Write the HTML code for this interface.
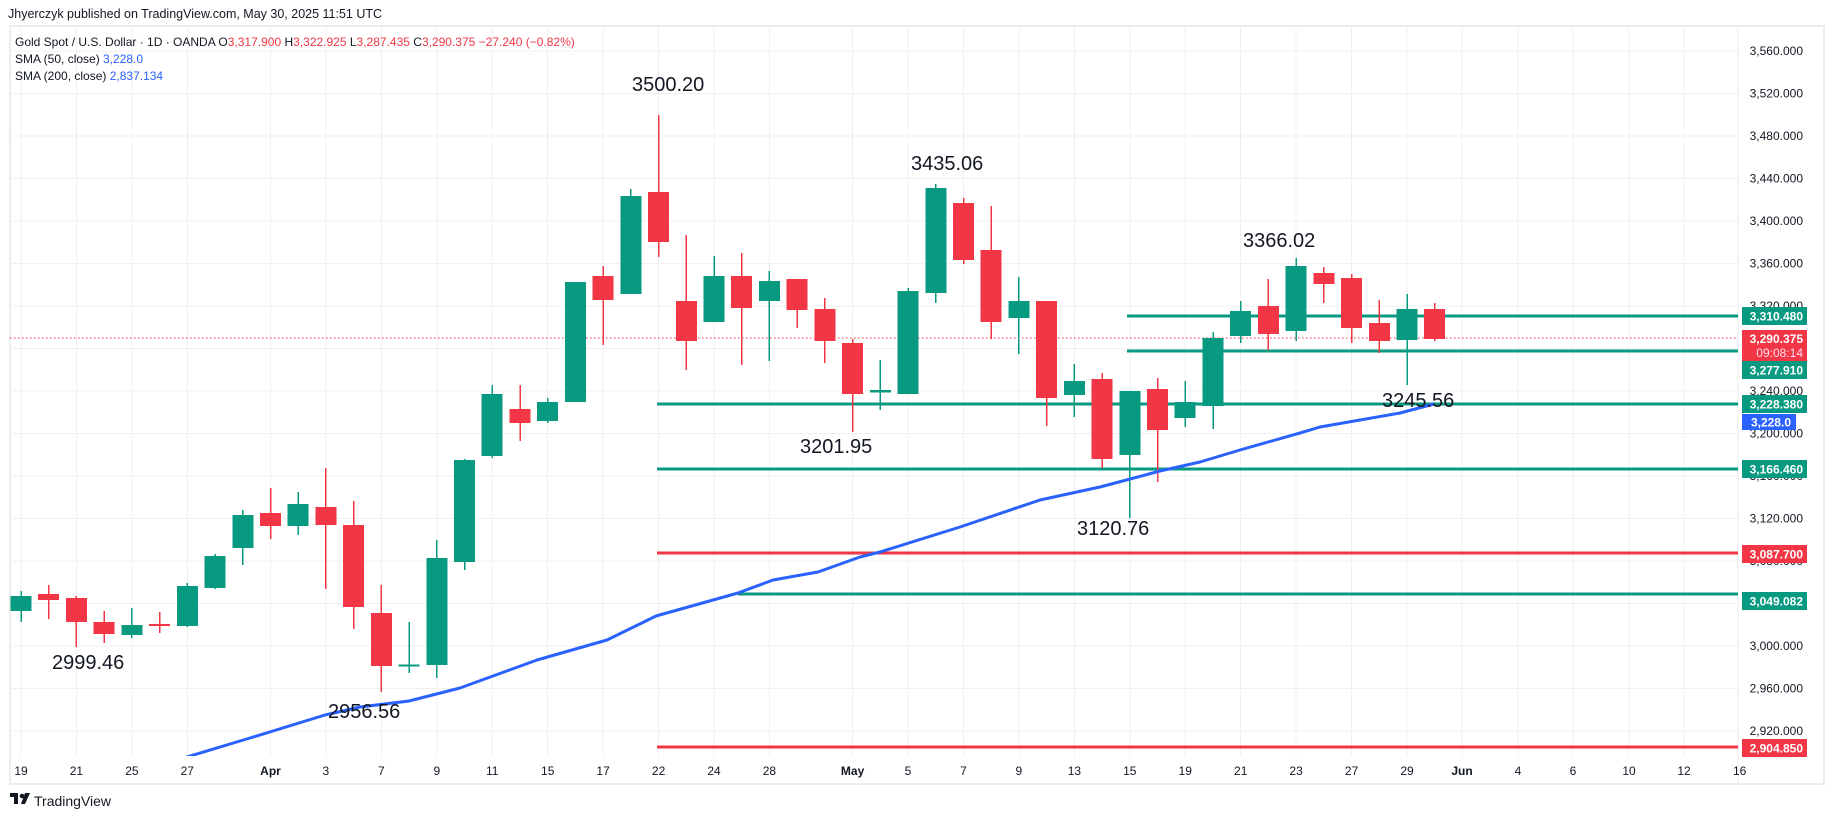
<!DOCTYPE html>
<html><head><meta charset="utf-8"><style>
html,body{margin:0;padding:0;background:#fff;}
svg{display:block;font-family:"Liberation Sans",sans-serif;}
</style></head><body>
<svg width="1835" height="820" viewBox="0 0 1835 820" xmlns="http://www.w3.org/2000/svg">
<rect width="1835" height="820" fill="#fff"/>
<text x="8" y="18" font-size="12.5" fill="#131722">Jhyerczyk published on TradingView.com, May 30, 2025 11:51 UTC</text>
<!-- frame -->
<rect x="10" y="26" width="1814" height="758" fill="none" stroke="#ececec" stroke-width="2"/>
<line x1="1738" y1="26" x2="1738" y2="784" stroke="#ececec" stroke-width="1"/>
<!-- grid -->
<g stroke="#f0f0f0" stroke-width="1" shape-rendering="crispEdges">
<line x1="10" x2="1738" y1="51" y2="51"/><line x1="10" x2="1738" y1="93.5" y2="93.5"/><line x1="10" x2="1738" y1="136" y2="136"/><line x1="10" x2="1738" y1="178.5" y2="178.5"/><line x1="10" x2="1738" y1="221" y2="221"/><line x1="10" x2="1738" y1="263.5" y2="263.5"/><line x1="10" x2="1738" y1="306" y2="306"/><line x1="10" x2="1738" y1="348.5" y2="348.5"/><line x1="10" x2="1738" y1="391" y2="391"/><line x1="10" x2="1738" y1="433.5" y2="433.5"/><line x1="10" x2="1738" y1="476" y2="476"/><line x1="10" x2="1738" y1="518.5" y2="518.5"/><line x1="10" x2="1738" y1="561" y2="561"/><line x1="10" x2="1738" y1="603.5" y2="603.5"/><line x1="10" x2="1738" y1="646" y2="646"/><line x1="10" x2="1738" y1="688.5" y2="688.5"/><line x1="10" x2="1738" y1="731" y2="731"/>
<line y1="26" y2="756" x1="21" x2="21"/><line y1="26" y2="756" x1="76.4" x2="76.4"/><line y1="26" y2="756" x1="131.9" x2="131.9"/><line y1="26" y2="756" x1="187.3" x2="187.3"/><line y1="26" y2="756" x1="270.5" x2="270.5"/><line y1="26" y2="756" x1="325.9" x2="325.9"/><line y1="26" y2="756" x1="381.4" x2="381.4"/><line y1="26" y2="756" x1="436.8" x2="436.8"/><line y1="26" y2="756" x1="492.2" x2="492.2"/><line y1="26" y2="756" x1="547.7" x2="547.7"/><line y1="26" y2="756" x1="603.1" x2="603.1"/><line y1="26" y2="756" x1="658.6" x2="658.6"/><line y1="26" y2="756" x1="714" x2="714"/><line y1="26" y2="756" x1="769.4" x2="769.4"/><line y1="26" y2="756" x1="852.6" x2="852.6"/><line y1="26" y2="756" x1="908" x2="908"/><line y1="26" y2="756" x1="963.5" x2="963.5"/><line y1="26" y2="756" x1="1018.9" x2="1018.9"/><line y1="26" y2="756" x1="1074.4" x2="1074.4"/><line y1="26" y2="756" x1="1129.8" x2="1129.8"/><line y1="26" y2="756" x1="1185.2" x2="1185.2"/><line y1="26" y2="756" x1="1240.7" x2="1240.7"/><line y1="26" y2="756" x1="1296.1" x2="1296.1"/><line y1="26" y2="756" x1="1351.6" x2="1351.6"/><line y1="26" y2="756" x1="1407" x2="1407"/><line y1="26" y2="756" x1="1462" x2="1462"/><line y1="26" y2="756" x1="1518" x2="1518"/><line y1="26" y2="756" x1="1573" x2="1573"/><line y1="26" y2="756" x1="1629" x2="1629"/><line y1="26" y2="756" x1="1684" x2="1684"/>
</g>
<!-- current price dotted -->
<line x1="10" x2="1738" y1="338" y2="338" stroke="#f23645" stroke-width="1" stroke-dasharray="1.5,2.5"/>
<!-- horizontal levels -->
<g stroke-width="3">
<line x1="1127" x2="1738" y1="316" y2="316" stroke="#089981"/>
<line x1="1127" x2="1738" y1="351" y2="351" stroke="#089981"/>
<line x1="657" x2="1738" y1="404" y2="404" stroke="#089981"/>
<line x1="657" x2="1738" y1="469" y2="469" stroke="#089981"/>
<line x1="657" x2="1738" y1="553" y2="553" stroke="#f23645"/>
<line x1="738" x2="1738" y1="594" y2="594" stroke="#089981"/>
<line x1="657" x2="1738" y1="747" y2="747" stroke="#f23645"/>
</g>
<!-- candles -->
<g shape-rendering="crispEdges">
<g fill="#089981">
<rect x="20.3" y="591" width="1.5" height="31"/><rect x="10.5" y="596" width="21" height="15"/>
<rect x="131.2" y="608" width="1.5" height="30"/><rect x="121.4" y="625" width="21" height="10"/>
<rect x="186.6" y="583" width="1.5" height="44"/><rect x="176.8" y="586" width="21" height="40"/>
<rect x="214.3" y="554" width="1.5" height="35"/><rect x="204.5" y="556" width="21" height="32"/>
<rect x="242.1" y="510" width="1.5" height="55"/><rect x="232.3" y="515" width="21" height="33"/>
<rect x="297.5" y="492" width="1.5" height="43"/><rect x="287.7" y="504" width="21" height="22"/>
<rect x="408.4" y="622" width="1.5" height="51"/><rect x="398.6" y="664.5" width="21" height="2"/>
<rect x="436.1" y="540" width="1.5" height="138"/><rect x="426.3" y="558" width="21" height="107"/>
<rect x="463.8" y="459" width="1.5" height="111"/><rect x="454" y="460" width="21" height="102"/>
<rect x="491.5" y="385" width="1.5" height="73"/><rect x="481.7" y="394" width="21" height="62"/>
<rect x="547" y="398" width="1.5" height="25"/><rect x="537.2" y="402" width="21" height="19"/>
<rect x="564.9" y="282" width="21" height="120"/>
<rect x="630.1" y="189" width="1.5" height="105"/><rect x="620.3" y="196" width="21" height="98"/>
<rect x="713.3" y="256" width="1.5" height="66"/><rect x="703.5" y="276" width="21" height="46"/>
<rect x="768.7" y="271" width="1.5" height="90"/><rect x="758.9" y="281" width="21" height="20"/>
<rect x="879.6" y="360" width="1.5" height="50"/><rect x="869.8" y="390" width="21" height="2.5"/>
<rect x="907.3" y="288" width="1.5" height="106"/><rect x="897.5" y="291" width="21" height="103"/>
<rect x="935.1" y="184" width="1.5" height="119"/><rect x="925.3" y="188" width="21" height="105"/>
<rect x="1018.2" y="277" width="1.5" height="77"/><rect x="1008.4" y="301" width="21" height="17"/>
<rect x="1073.7" y="364" width="1.5" height="53"/><rect x="1063.9" y="381" width="21" height="14"/>
<rect x="1129.1" y="391" width="1.5" height="127"/><rect x="1119.3" y="391" width="21" height="64"/>
<rect x="1184.5" y="381" width="1.5" height="46"/><rect x="1174.7" y="402" width="21" height="16"/>
<rect x="1212.3" y="332" width="1.5" height="97"/><rect x="1202.5" y="338" width="21" height="68"/>
<rect x="1240" y="301" width="1.5" height="42"/><rect x="1230.2" y="311" width="21" height="25"/>
<rect x="1295.4" y="258" width="1.5" height="83"/><rect x="1285.6" y="266" width="21" height="65"/>
<rect x="1406.3" y="294" width="1.5" height="91"/><rect x="1396.5" y="309" width="21" height="31"/>
</g>
<g fill="#f23645">
<rect x="48" y="585" width="1.5" height="34"/><rect x="38.2" y="594" width="21" height="6"/>
<rect x="75.7" y="596" width="1.5" height="51"/><rect x="65.9" y="598" width="21" height="24"/>
<rect x="103.5" y="611" width="1.5" height="32"/><rect x="93.7" y="622" width="21" height="12"/>
<rect x="158.9" y="612" width="1.5" height="21"/><rect x="149.1" y="624" width="21" height="2"/>
<rect x="269.8" y="488" width="1.5" height="51"/><rect x="260" y="513" width="21" height="13"/>
<rect x="325.2" y="468" width="1.5" height="121"/><rect x="315.4" y="507" width="21" height="18"/>
<rect x="352.9" y="501" width="1.5" height="128"/><rect x="343.1" y="525" width="21" height="82"/>
<rect x="380.7" y="585" width="1.5" height="107"/><rect x="370.9" y="613" width="21" height="53"/>
<rect x="519.3" y="385" width="1.5" height="56"/><rect x="509.5" y="409" width="21" height="14"/>
<rect x="602.4" y="266" width="1.5" height="79"/><rect x="592.6" y="276" width="21" height="24"/>
<rect x="657.9" y="115" width="1.5" height="142"/><rect x="648.1" y="192" width="21" height="50"/>
<rect x="685.6" y="235" width="1.5" height="135"/><rect x="675.8" y="301" width="21" height="40"/>
<rect x="741" y="253" width="1.5" height="112"/><rect x="731.2" y="276" width="21" height="32"/>
<rect x="796.5" y="279" width="1.5" height="49"/><rect x="786.7" y="279" width="21" height="31"/>
<rect x="824.2" y="298" width="1.5" height="65"/><rect x="814.4" y="309" width="21" height="32"/>
<rect x="851.9" y="339" width="1.5" height="93"/><rect x="842.1" y="343" width="21" height="51"/>
<rect x="962.8" y="198" width="1.5" height="66"/><rect x="953" y="203" width="21" height="57"/>
<rect x="990.5" y="206" width="1.5" height="133"/><rect x="980.7" y="250" width="21" height="72"/>
<rect x="1045.9" y="301" width="1.5" height="125"/><rect x="1036.1" y="301" width="21" height="97"/>
<rect x="1101.4" y="373" width="1.5" height="95"/><rect x="1091.6" y="379" width="21" height="80"/>
<rect x="1156.8" y="378" width="1.5" height="104"/><rect x="1147" y="389" width="21" height="41"/>
<rect x="1267.7" y="279" width="1.5" height="71"/><rect x="1257.9" y="306" width="21" height="28"/>
<rect x="1323.1" y="267" width="1.5" height="36"/><rect x="1313.3" y="273" width="21" height="11"/>
<rect x="1350.9" y="274" width="1.5" height="69"/><rect x="1341.1" y="278" width="21" height="50"/>
<rect x="1378.6" y="300" width="1.5" height="53"/><rect x="1368.8" y="323" width="21" height="18"/>
<rect x="1434" y="303" width="1.5" height="38"/><rect x="1424.2" y="309" width="21" height="30"/>
</g>
</g>
<!-- SMA 50 -->
<clipPath id="pc"><rect x="10" y="26" width="1728" height="730"/></clipPath>
<polyline clip-path="url(#pc)" fill="none" stroke="#2962ff" stroke-width="3" stroke-linejoin="round" points="160,765 187,757 250,738 325,715 360,707 409,701 460,688 537,660 607,640 656,616 738,593 773,580 818,572 860,557 880,552 960,527 1040,500 1100,487 1160,471 1200,462 1240,450 1300,433 1320,427 1400,413 1434,404"/>
<!-- annotations -->
<g font-size="20" fill="#131722">
<text x="632" y="91">3500.20</text>
<text x="800" y="453">3201.95</text>
<text x="911" y="170">3435.06</text>
<text x="1243" y="247">3366.02</text>
<text x="1077" y="535">3120.76</text>
<text x="1382" y="407">3245.56</text>
<text x="52" y="669">2999.46</text>
<text x="328" y="718">2956.56</text>
</g>
<!-- legend -->
<g font-size="12" fill="#131722">
<text x="15" y="46">Gold Spot / U.S. Dollar · 1D · OANDA  <tspan>O</tspan><tspan fill="#f23645">3,317.900</tspan>  H<tspan fill="#f23645">3,322.925</tspan>  L<tspan fill="#f23645">3,287.435</tspan>  C<tspan fill="#f23645">3,290.375</tspan>  <tspan fill="#f23645">−27.240 (−0.82%)</tspan></text>
<text x="15" y="63">SMA (50, close)  <tspan fill="#2962ff">3,228.0</tspan></text>
<text x="15" y="80">SMA (200, close)  <tspan fill="#2962ff">2,837.134</tspan></text>
</g>
<!-- price axis -->
<g font-size="12" fill="#131722" text-anchor="end">
<text x="1803" y="55">3,560.000</text><text x="1803" y="97.5">3,520.000</text><text x="1803" y="140">3,480.000</text><text x="1803" y="182.5">3,440.000</text><text x="1803" y="225">3,400.000</text><text x="1803" y="267.5">3,360.000</text><text x="1803" y="310">3,320.000</text><text x="1803" y="395">3,240.000</text><text x="1803" y="437.5">3,200.000</text><text x="1803" y="480">3,160.000</text><text x="1803" y="522.5">3,120.000</text><text x="1803" y="565">3,080.000</text><text x="1803" y="607.5">3,040.000</text><text x="1803" y="650">3,000.000</text><text x="1803" y="692.5">2,960.000</text><text x="1803" y="735">2,920.000</text>
</g>
<g font-size="12" font-weight="bold" fill="#fff" text-anchor="end">
<rect x="1742" y="307" width="65" height="18" fill="#089981"/><text x="1803" y="320.5">3,310.480</text>
<rect x="1742" y="330" width="65" height="31" fill="#f23645"/><text x="1803" y="343">3,290.375</text><text x="1803" y="357" font-weight="normal" fill="#fde">09:08:14</text>
<rect x="1742" y="361" width="65" height="18" fill="#089981"/><text x="1803" y="374.5">3,277.910</text>
<rect x="1742" y="395" width="65" height="18" fill="#089981"/><text x="1803" y="408.5">3,228.380</text>
<rect x="1742" y="414" width="54" height="16" fill="#2962ff"/><text x="1791" y="426.5">3,228.0</text>
<rect x="1742" y="460" width="65" height="18" fill="#089981"/><text x="1803" y="473.5">3,166.460</text>
<rect x="1742" y="545" width="65" height="18" fill="#f23645"/><text x="1803" y="558.5">3,087.700</text>
<rect x="1742" y="592" width="65" height="18" fill="#089981"/><text x="1803" y="605.5">3,049.082</text>
<rect x="1742" y="739" width="65" height="18" fill="#f23645"/><text x="1803" y="752.5">2,904.850</text>
</g>
<!-- time axis -->
<g font-size="12" fill="#131722" text-anchor="middle">
<text x="21" y="775">19</text><text x="76.4" y="775">21</text><text x="131.9" y="775">25</text><text x="187.3" y="775">27</text><text x="270.5" y="775" font-weight="bold">Apr</text><text x="325.9" y="775">3</text><text x="381.4" y="775">7</text><text x="436.8" y="775">9</text><text x="492.2" y="775">11</text><text x="547.7" y="775">15</text><text x="603.1" y="775">17</text><text x="658.6" y="775">22</text><text x="714" y="775">24</text><text x="769.4" y="775">28</text><text x="852.6" y="775" font-weight="bold">May</text><text x="908" y="775">5</text><text x="963.5" y="775">7</text><text x="1018.9" y="775">9</text><text x="1074.4" y="775">13</text><text x="1129.8" y="775">15</text><text x="1185.2" y="775">19</text><text x="1240.7" y="775">21</text><text x="1296.1" y="775">23</text><text x="1351.6" y="775">27</text><text x="1407" y="775">29</text><text x="1462" y="775" font-weight="bold">Jun</text><text x="1518" y="775">4</text><text x="1573" y="775">6</text><text x="1629" y="775">10</text><text x="1684" y="775">12</text><text x="1733" y="775" text-anchor="start">16</text>
</g>
<!-- logo -->
<g fill="#131722">
<rect x="10" y="793" width="8" height="4"/><rect x="14" y="793" width="4" height="11"/>
<circle cx="22" cy="796" r="2.3"/><polygon points="25,793 30,793 25,804 21,804"/>
<text x="34" y="806" font-size="14">TradingView</text>
</g>
</svg>
</body></html>
